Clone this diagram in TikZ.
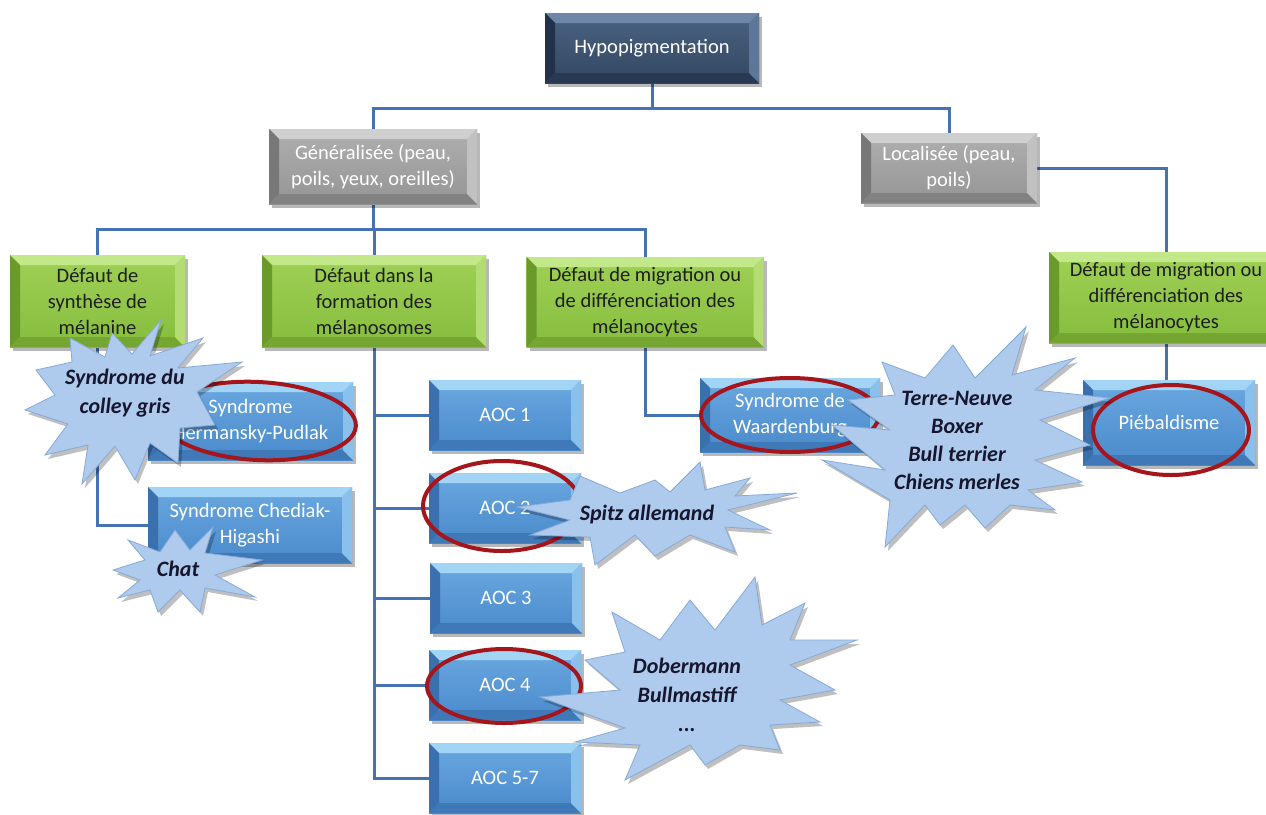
\documentclass[tikz,border=0pt]{standalone}
\usepackage{fontspec}
\setmainfont{Carlito}
\usetikzlibrary{shadows,calc}
\pgfdeclarelayer{background}
\pgfsetlayers{background,main}
\definecolor{conncol}{HTML}{4472B4}
\definecolor{hypoA}{HTML}{4A6283}\definecolor{hypoB}{HTML}{33475F}
\definecolor{hypoL}{HTML}{6E87A8}\definecolor{hypoD}{HTML}{22324A}
\definecolor{grayA}{HTML}{AFAFAF}\definecolor{grayB}{HTML}{959595}
\definecolor{grayL}{HTML}{CFCFCF}\definecolor{grayD}{HTML}{787878}
\definecolor{grnA}{HTML}{9FD055}\definecolor{grnB}{HTML}{86BD3E}
\definecolor{grnL}{HTML}{C3E88A}\definecolor{grnD}{HTML}{6A9A2A}
\definecolor{bluA}{HTML}{6AA8E0}\definecolor{bluB}{HTML}{4A8ACB}
\definecolor{bluL}{HTML}{A2D4F5}\definecolor{bluD}{HTML}{3A70AE}
\definecolor{ringred}{HTML}{A5161C}
\definecolor{burstfill}{HTML}{AECAEC}
\definecolor{burstline}{HTML}{86AAD8}
\definecolor{bursttext}{HTML}{16162E}
\definecolor{darktext}{HTML}{1E1E1E}
\newcommand\myboxfont{\fontsize{20.5}{26}\selectfont}
\newcommand\myburstfont{\fontsize{22}{29}\selectfont\bfseries\itshape}
\tikzset{
  bevbox/.style n args={5}{rectangle, inner sep=0pt, align=center, text=#5,
    top color=#1, bottom color=#2, font=\myboxfont,
    drop shadow={shadow xshift=3pt, shadow yshift=-4pt, opacity=.28, fill=black},
    path picture={
      \path (path picture bounding box.north west) coordinate (pnw)
            (path picture bounding box.north east) coordinate (pne)
            (path picture bounding box.south west) coordinate (psw)
            (path picture bounding box.south east) coordinate (pse);
      \fill[#3] (pnw) -- (pne) -- ([xshift=-10pt,yshift=-10pt]pne) -- ([xshift=10pt,yshift=-10pt]pnw) -- cycle;
      \fill[#4] (pnw) -- ([xshift=10pt,yshift=-10pt]pnw) -- ([xshift=10pt,yshift=10pt]psw) -- (psw) -- cycle;
      \fill[#4!65!#2] (psw) -- ([xshift=10pt,yshift=10pt]psw) -- ([xshift=-10pt,yshift=10pt]pse) -- (pse) -- cycle;
      \fill[#3!55!#1] (pne) -- ([xshift=-10pt,yshift=-10pt]pne) -- ([xshift=-10pt,yshift=10pt]pse) -- (pse) -- cycle;
    }},
  hypobox/.style={bevbox={hypoA}{hypoB}{hypoL}{hypoD}{white}},
  graybox/.style={bevbox={grayA}{grayB}{grayL}{grayD}{white}},
  grnbox/.style={bevbox={grnA}{grnB}{grnL}{grnD}{darktext}},
  blubox/.style={bevbox={bluA}{bluB}{bluL}{bluD}{white}},
  conn/.style={draw=conncol, line width=3pt},
  ring/.style={draw=ringred, line width=4pt},
  burst/.style={fill=burstfill, draw=burstline, line width=0.8pt, line join=miter,
    drop shadow={shadow xshift=3pt, shadow yshift=-4pt, opacity=.25, fill=black}},
  bursttxt/.style={font=\myburstfont, text=bursttext, align=center, inner sep=0pt}
}
\begin{document}
\begin{tikzpicture}[x=1pt,y=-1pt]
\begin{pgfonlayer}{background}
\path[fill=white] (0,0) rectangle (1266,814);
\end{pgfonlayer}
\path[use as bounding box] (0,0) rectangle (1266,814);

% ---------- nodes ----------
\node[hypobox, minimum width=214pt, minimum height=70pt] (hypo) at (652,48) {Hypopigmentation};
\node[graybox, minimum width=208pt, minimum height=75pt] (gen) at (373,166.5) {Généralisée (peau,\\poils, yeux, oreilles)};
\node[graybox, minimum width=176pt, minimum height=70pt] (loc) at (949,168) {Localisée (peau,\\poils)};

\node[grnbox, minimum width=175pt, minimum height=92pt] (g1) at (97.5,301) {Défaut de\\synthèse de\\mélanine};
\node[grnbox, minimum width=224pt, minimum height=92pt] (g2) at (374,301) {Défaut dans la\\formation des\\mélanosomes};
\node[grnbox, minimum width=237pt, minimum height=90pt] (g3) at (645,302) {Défaut de migration ou\\de différenciation des\\mélanocytes};
\node[grnbox, minimum width=234pt, minimum height=91pt] (g4) at (1166,297.5) {Défaut de migration ou\\différenciation des\\mélanocytes};

\node[blubox, minimum width=205pt, minimum height=78pt] (herm) at (250.5,421) {Syndrome\\Hermansky-Pudlak};
\node[blubox, minimum width=204pt, minimum height=76pt] (ched) at (250,525) {Syndrome Chediak-\\Higashi};

\node[blubox, minimum width=152pt, minimum height=70pt] (aoc1) at (505,415) {AOC 1};
\node[blubox, minimum width=152pt, minimum height=70pt] (aoc2) at (505,508) {AOC 2};
\node[blubox, minimum width=152pt, minimum height=70pt] (aoc3) at (506,598) {AOC 3};
\node[blubox, minimum width=152pt, minimum height=70pt] (aoc4) at (505,685) {AOC 4};
\node[blubox, minimum width=152pt, minimum height=70pt] (aoc5) at (505,778) {AOC 5-7};

\node[blubox, minimum width=180pt, minimum height=74pt] (waard) at (790,415) {Syndrome de\\Waardenburg};
\node[blubox, minimum width=172pt, minimum height=85pt] (pieb) at (1169,422.5) {Piébaldisme};

% ---------- connectors (behind boxes) ----------
\begin{pgfonlayer}{background}
\coordinate (j1) at (652,108);
\coordinate (j2) at (373,229);
\path[conn] (hypo.south) -- (j1);
\path[conn] (gen.north) |- (j1) -| (loc.north);
\path[conn] (gen.south) -- (j2);
\path[conn] (g1.north) |- (j2) -| (g3.north);
\path[conn] (g2.north) -- (g2.north |- j2);
\path[conn] (loc.east) -| (g4.north);
\path[conn] (g1.south) |- (ched.west);
\path[conn] (g1.south |- herm.west) -- (herm.west);
\path[conn] (g2.south) |- (aoc5.west);
\path[conn] (g2.south |- aoc1.west) -- (aoc1.west);
\path[conn] (g2.south |- aoc2.west) -- (aoc2.west);
\path[conn] (g2.south |- aoc3.west) -- (aoc3.west);
\path[conn] (g2.south |- aoc4.west) -- (aoc4.west);
\path[conn] (g3.south) |- (waard.west);
\path[conn] (g4.south) -- (g4.south |- pieb.north);
\end{pgfonlayer}

% ---------- red rings ----------
\draw[ring, rotate around={-3:(258,421)}] (258,421) ellipse [x radius=98, y radius=39];
\draw[ring] (790,415) ellipse [x radius=89, y radius=37];
\draw[ring] (502,506) ellipse [x radius=79, y radius=45];
\draw[ring] (504,686) ellipse [x radius=77, y radius=37];
\draw[ring] (1171,430) ellipse [x radius=78, y radius=45];

% ---------- bursts ----------
\path[burst] (161,320) -- (150,356) -- (203,338) -- (178,368) -- (242,362) -- (197,392)
  -- (215,425) -- (180,428) -- (178,463) -- (150,443) -- (135,480) -- (115,446)
  -- (82,484) -- (88,445) -- (45,455) -- (68,424) -- (25,410) -- (55,395)
  -- (36,370) -- (72,362) -- (70,338) -- (105,357) -- (112,333) -- (132,354) -- cycle;
\node[bursttxt] (bA) at (125,393) {Syndrome du\\colley gris};

\path[burst] (213,527) -- (205,553) -- (262,560) -- (215,575) -- (255,597) -- (205,588)
  -- (200,612) -- (180,590) -- (158,612) -- (150,590) -- (118,598) -- (140,580)
  -- (113,570) -- (145,560) -- (128,540) -- (160,552) -- (175,530) -- (190,550) -- cycle;
\node[bursttxt] (bB) at (178,569) {Chat};

\path[burst] (517,507) -- (570,500) -- (580,476) -- (620,493) -- (655,480) -- (670,492)
  -- (700,462) -- (705,490) -- (750,478) -- (735,496) -- (797,493) -- (728,510)
  -- (770,530) -- (725,527) -- (735,552) -- (690,535) -- (655,556) -- (635,535)
  -- (595,565) -- (590,537) -- (530,535) -- (570,520) -- cycle;
\node[bursttxt] (bC) at (647,515) {Spitz allemand};

\path[burst] (755,577) -- (762,625) -- (805,603) -- (790,640) -- (857,640) -- (790,665)
  -- (835,690) -- (780,700) -- (820,722) -- (770,725) -- (780,750) -- (740,745)
  -- (705,765) -- (690,745) -- (625,780) -- (640,745) -- (575,742) -- (625,728)
  -- (540,697) -- (620,690) -- (585,660) -- (625,652) -- (612,612) -- (660,640)
  -- (690,600) -- (715,630) -- cycle;
\node[bursttxt] (bD) at (687,695) {Dobermann\\Bullmastiff\\...};

\path[burst] (1026,327) -- (1012,375) -- (1075,358) -- (1035,390) -- (1110,398) -- (1040,420)
  -- (1090,445) -- (1035,460) -- (1082,482) -- (1028,490) -- (1055,510) -- (1010,505)
  -- (985,528) -- (965,505) -- (940,525) -- (925,505) -- (885,547) -- (890,500)
  -- (822,460) -- (885,470) -- (832,425) -- (890,430) -- (848,400) -- (895,395)
  -- (882,362) -- (925,378) -- (953,345) -- (975,378) -- cycle;
\node[bursttxt, font=\fontsize{22}{28}\selectfont\bfseries\itshape] (bE) at (957,440) {Terre-Neuve\\Boxer\\Bull terrier\\Chiens merles};
\end{tikzpicture}
\end{document}
